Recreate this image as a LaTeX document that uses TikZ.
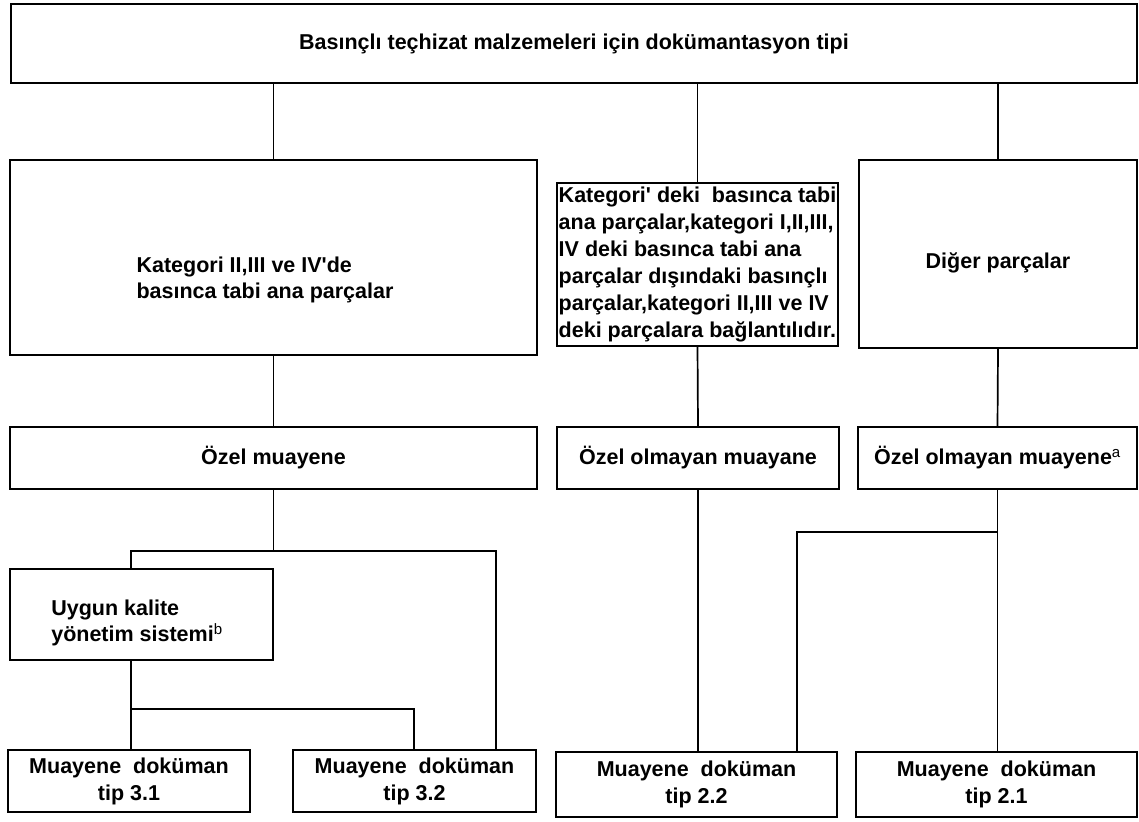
\documentclass[tikz,border=0pt]{standalone}
\usepackage{fontspec}
\setmainfont{Liberation Sans}
\usepackage{tikz}

\begin{document}
\begin{tikzpicture}[x=1pt,y=-1pt,
  box/.style={draw, line width=1.7pt, inner sep=0pt, align=center,
    font=\bfseries\fontsize{21.5}{27}\selectfont},
  txt/.style={inner sep=0pt, align=left, font=\bfseries\fontsize{21.5}{26}\selectfont},
  link/.style={line width=1.7pt}]
\useasboundingbox[fill=white] (0,0) rectangle (1139,821);

% boxes
\node[box, minimum width=1126, minimum height=79] (doc) at (574,43.5) {Basınçlı teçhizat malzemeleri için dokümantasyon tipi};

\node[box, minimum width=527, minimum height=195] (kat) at (273.5,257.5) {};
\node[txt] (katt) at (265,280) {Kategori II,III ve IV\textquotesingle de\\basınca tabi ana parçalar};
\node[box, minimum width=281, minimum height=163, align=left] (bag) at (697.5,264.5) {Kategori\textquotesingle\ deki\ \ basınca tabi\\ana parçalar,kategori I,II,III,\\IV deki basınca tabi ana\\parçalar dışındaki basınçlı\\parçalar,kategori II,III ve IV\\deki parçalara bağlantılıdır.};
\node[box, minimum width=278, minimum height=188] (dig) at (998,254) {};
\node[txt] (digt) at (998,263) {Diğer parçalar};

\node[box, minimum width=527, minimum height=62] (ozel) at (273.5,458) {Özel muayene};
\node[box, minimum width=282, minimum height=62] (ozol) at (698,458) {Özel olmayan muayane};
\node[box, minimum width=279, minimum height=62] (ozola) at (997.5,458) {Özel olmayan muayene\textsuperscript{\mdseries a}};

\node[box, minimum width=263, minimum height=91] (ykys) at (141.5,614.5) {};
\node[txt] (ykyst) at (137,623) {Uygun kalite\\yönetim sistemi\textsuperscript{\mdseries b}};

\node[box, minimum width=242, minimum height=62] (m31) at (129,781) {Muayene\ \ doküman\\tip 3.1};
\node[box, minimum width=243, minimum height=62] (m32) at (414.5,781) {Muayene\ \ doküman\\tip 3.2};
\node[box, minimum width=281, minimum height=65] (m22) at (696.5,784.5) {Muayene\ \ doküman\\tip 2.2};
\node[box, minimum width=281, minimum height=65] (m21) at (996.5,784.5) {Muayene\ \ doküman\\tip 2.1};

% branch points
\coordinate (b1l) at (131,551);
\coordinate (b1r) at (496,551);
\coordinate (b2l) at (131,709);
\coordinate (b2r) at (414,709);
\coordinate (b3l) at (797,532);

% connectors
\draw[link] (doc.south -| kat.north) -- (kat.north);
\draw[link] (doc.south -| bag.north) -- (bag.north);
\draw[link] (doc.south -| dig.north) -- (dig.north);

\draw[link] (kat.south) -- (ozel.north);
\draw[link] (bag.south) -- (ozol.north);
\draw[link] (dig.south) -- (ozola.north);

\draw[link] (ozel.south) -- (ozel.south |- b1l);
\draw[link] (b1l |- ykys.north) -- (b1l) -- (b1r) -- (b1r |- m32.north);
\draw[link] (b2l |- ykys.south) -- (b2l |- m31.north);
\draw[link] (b2l) -- (b2r) -- (b2r |- m32.north);

\draw[link] (ozol.south) -- (ozol.south |- m22.north);
\draw[link] (ozola.south) -- (ozola.south |- m21.north);
\draw[link] (ozola.south |- b3l) -- (b3l) -- (b3l |- m22.north);

\end{tikzpicture}
\end{document}
